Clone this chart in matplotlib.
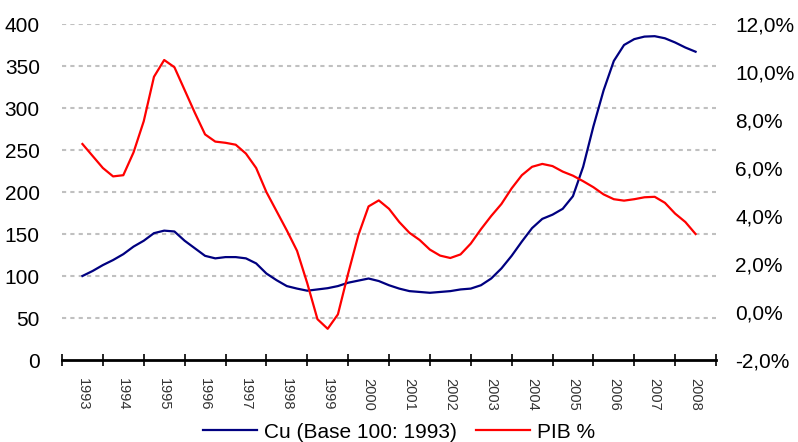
import numpy as np
import matplotlib
matplotlib.use('Agg')
from matplotlib import pyplot as plt
from matplotlib.lines import Line2D

plt.rcParams['font.family'] = ['Liberation Sans', 'DejaVu Sans']

years = ['1993', '1994', '1995', '1996', '1997', '1998', '1999', '2000',
         '2001', '2002', '2003', '2004', '2005', '2006', '2007', '2008']

# quarterly readings, 1993 Q1 .. 2008 Q1
cu_index = [100, 106, 113, 119, 126, 135, 142, 151, 154, 153, 142, 133, 124,
            121, 122.5, 122.5, 121, 115, 103, 95, 88, 85, 82.5, 84, 85.5, 88,
            92, 94.5, 97, 94, 89, 85, 82, 81, 80, 81, 82, 84, 85, 89, 97, 109,
            124, 141, 157, 168, 173, 180, 195, 230, 278, 321, 356, 375, 382,
            385, 385.5, 383, 378, 372, 367]
pib_pct = [7.0, 6.5, 6.0, 5.65, 5.7, 6.65, 7.95, 9.8, 10.5, 10.2, 9.25, 8.3,
           7.4, 7.1, 7.05, 6.97, 6.6, 6.0, 5.0, 4.2, 3.4, 2.55, 1.2, -0.3,
           -0.7, -0.1, 1.6, 3.2, 4.4, 4.65, 4.3, 3.75, 3.3, 3.0, 2.6, 2.35,
           2.25, 2.4, 2.85, 3.45, 4.0, 4.5, 5.15, 5.7, 6.05, 6.17, 6.08, 5.85,
           5.68, 5.45, 5.2, 4.9, 4.7, 4.64, 4.7, 4.78, 4.8, 4.55, 4.1, 3.75,
           3.25]

t = np.arange(len(cu_index)) / 4.0

fig = plt.figure(figsize=(7.98, 4.42), dpi=100)
ax = fig.add_axes([62 / 798, 82 / 442, 654 / 798, 336 / 442])
ax2 = ax.twinx()

ax.set_xlim(-0.5, len(years) - 0.5)
ax.set_ylim(0, 400)
ax2.set_ylim(-2, 12)

ax.set_yticks(np.arange(0, 401, 50))
ax.set_yticklabels([str(v) for v in range(0, 401, 50)])
ax2.set_yticks(np.arange(-2, 13, 2))
ax2.set_yticklabels([('%.1f%%' % v).replace('.', ',') for v in range(-2, 13, 2)])

for v in range(50, 401, 50):
    ax.axhline(v, color='#c0c0c0', lw=1.5, ls=(0, (2, 2)), zorder=0)

ax.set_xticks(np.arange(-0.5, len(years), 1.0))
ax.set_xticklabels([])
ax.set_xticks(np.arange(len(years)), minor=True)
ax.set_xticklabels(years, minor=True, rotation=270, fontsize=10.5,
                   color='#333333', va='top', ha='center')
ax.tick_params(axis='x', which='major', direction='inout', length=8, width=1.2)
ax.tick_params(axis='x', which='minor', length=0, pad=13)
ax.tick_params(axis='y', length=0, pad=16, labelsize=15)
ax2.tick_params(axis='y', length=0, pad=14, labelsize=15)

for a in (ax, ax2):
    for s in ('left', 'right', 'top'):
        a.spines[s].set_visible(False)
    a.spines['bottom'].set_visible(False)
ax.spines['bottom'].set_visible(True)
ax.spines['bottom'].set_linewidth(2)

ax.plot(t, cu_index, color='#000080', lw=1.6, zorder=3)
ax2.plot(t, pib_pct, color='#ff0000', lw=1.6, zorder=3)

handles = [Line2D([], [], color='#000080', lw=1.6),
           Line2D([], [], color='#ff0000', lw=1.6)]
fig.legend(handles, ['Cu (Base 100: 1993)', 'PIB %'], loc='center',
           bbox_to_anchor=(0.5, 0.022), ncol=2, frameon=False, fontsize=15,
           handlelength=2.6, handletextpad=0.35, columnspacing=0.9)

fig.savefig('out.png', dpi=100)
